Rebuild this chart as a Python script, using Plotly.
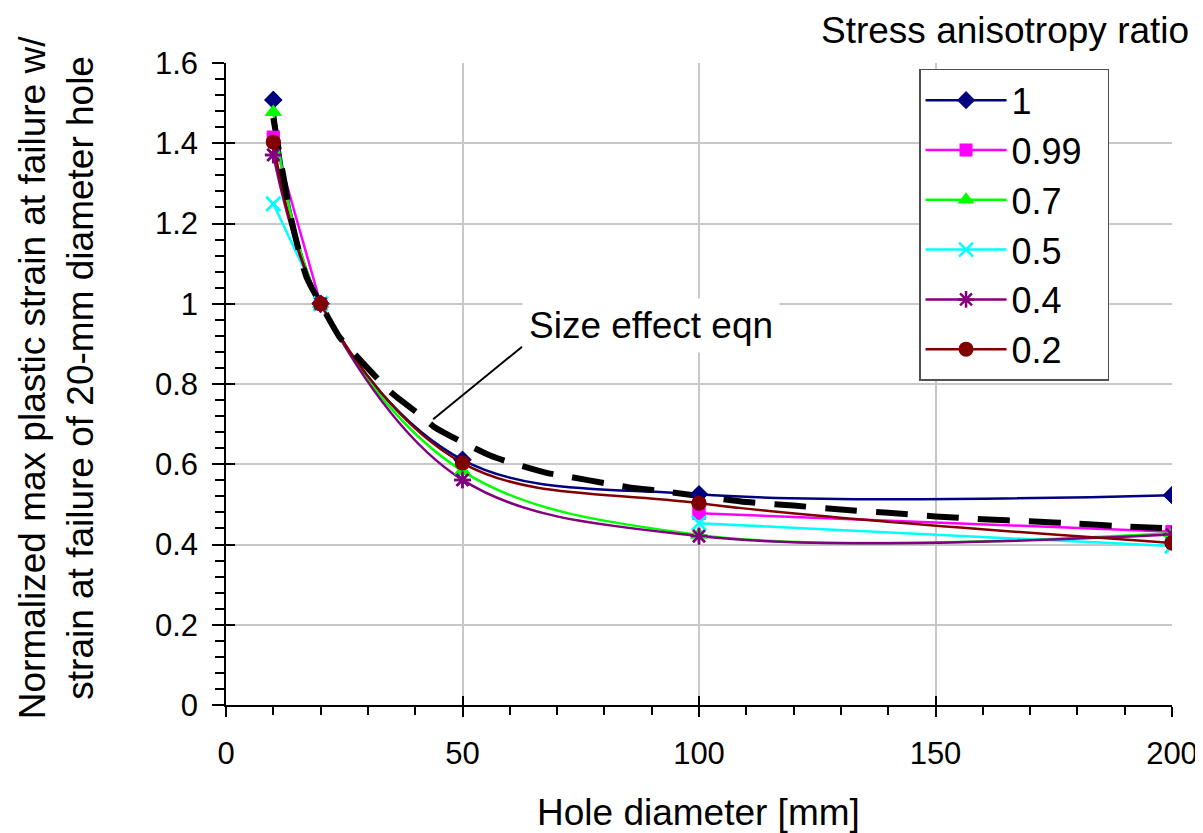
import plotly.graph_objects as go

# ---------------- data ----------------
diam = [10, 20, 50, 100, 200]
ratio_names = ["1", "0.99", "0.7", "0.5", "0.4", "0.2"]
v_r100 = [1.508, 1.0, 0.611, 0.525, 0.523]
v_r099 = [1.415, 1.0, None, 0.478, 0.432]
v_r070 = [1.478, 1.0, 0.583, 0.424, 0.428]
v_r050 = [1.249, 1.0, None, 0.453, 0.396]
v_r040 = [1.371, 1.0, 0.561, 0.421, 0.425]
v_r020 = [1.403, 1.0, 0.603, 0.503, 0.404]

eqn_x = [10, 14, 17, 20, 24, 27, 35, 41, 44, 50, 56, 61, 68, 73, 80, 85, 92, 100,
         110, 120, 130, 140, 150, 160, 170, 180, 190, 200]
eqn_y = [1.463, 1.20, 1.067, 1.0, 0.917, 0.877, 0.778, 0.723, 0.693, 0.655, 0.621,
         0.601, 0.578, 0.568, 0.553, 0.543, 0.533, 0.521, 0.506, 0.497, 0.487, 0.479,
         0.470, 0.463, 0.458, 0.452, 0.445, 0.440]

x_ticks = [0, 50, 100, 150, 200]
y_ticks = [0, 0.2, 0.4, 0.6, 0.8, 1.0, 1.2, 1.4, 1.6]
y_ticktext = ["0", "0.2", "0.4", "0.6", "0.8", "1", "1.2", "1.4", "1.6"]

series_vals = [v_r100, v_r099, v_r070, v_r050, v_r040, v_r020]
colors = ["#000080", "#FF00FF", "#00FF00", "#00FFFF", "#800080", "#800000"]
symbols = ["diamond", "square", "triangle-up", "x-thin", "asterisk-open", "circle"]
msizes = [14, 13, 15, 14, 14, 15]

FONT = "Liberation Sans, Arial, sans-serif"
PAD = "\u00a0\u00a0"

fig = go.Figure()

# series lines (with legend)
for name, vals, c, s, ms in zip(ratio_names, series_vals, colors, symbols, msizes):
    mline = dict(width=2.5, color=c) if s in ("x-thin", "asterisk-open") else dict(width=0)
    fig.add_trace(go.Scatter(
        x=diam, y=vals, name=name + PAD, mode="lines+markers", connectgaps=False,
        line=dict(color=c, width=2.5, shape="spline", smoothing=1.0),
        marker=dict(symbol=s, size=ms, color=c, line=mline),
    ))

# size effect equation curve
fig.add_trace(go.Scatter(
    x=eqn_x, y=eqn_y, mode="lines", showlegend=False, hoverinfo="skip",
    line=dict(color="black", width=6, dash="32px,19px", shape="spline", smoothing=0.6),
))

# markers on top again
for name, vals, c, s, ms in zip(ratio_names, series_vals, colors, symbols, msizes):
    mline = dict(width=2.5, color=c) if s in ("x-thin", "asterisk-open") else dict(width=0)
    fig.add_trace(go.Scatter(
        x=diam, y=vals, mode="markers", showlegend=False, hoverinfo="skip",
        marker=dict(symbol=s, size=ms, color=c, line=mline),
    ))

# empty trace on overlay axes (inside tick marks)
fig.add_trace(go.Scatter(x=[], y=[], xaxis="x2", yaxis="y2", showlegend=False,
                         hoverinfo="skip"))

# callout line for annotation
fig.add_shape(type="line", xref="x", yref="y", x0=43.8, y0=0.712, x1=62.6, y1=0.893,
              line=dict(color="black", width=2))

fig.add_annotation(
    xref="x", yref="y", x=62.6, y=0.947, xanchor="left", yanchor="middle",
    text="Size effect eqn", showarrow=False, bgcolor="white",
    font=dict(family=FONT, size=37, color="black"), borderpad=6,
)

fig.add_annotation(
    xref="paper", yref="paper", x=1.019, y=1.0514, xanchor="right", yanchor="middle",
    text="Stress anisotropy ratio", showarrow=False, borderpad=0,
    font=dict(family=FONT, size=37, color="black"),
)

fig.add_annotation(
    xref="paper", yref="paper", x=-0.1797, y=0.509, xanchor="center", yanchor="middle",
    text="Normalized max plastic strain at failure w/<br>strain at failure of 20-mm diameter hole",
    textangle=-90, showarrow=False,
    font=dict(family=FONT, size=37, color="black"),
)

fig.add_annotation(
    xref="paper", yref="paper", x=0.499, y=-0.1667, xanchor="center", yanchor="middle",
    text="Hole diameter [mm]", showarrow=False,
    font=dict(family=FONT, size=37, color="black"),
)

fig.update_layout(
    width=1195, height=825,
    margin=dict(l=218, r=31, t=55, b=128),
    paper_bgcolor="white", plot_bgcolor="white",
    font=dict(family=FONT, color="black"),
    showlegend=True,
    legend=dict(
        x=0.7326, y=0.991, xanchor="left", yanchor="top",
        bgcolor="white", bordercolor="#505050", borderwidth=1.5,
        font=dict(family=FONT, size=36, color="black"),
        itemwidth=81,
    ),
    xaxis=dict(
        range=[0, 200], tickvals=x_ticks, ticktext=[str(v) for v in x_ticks],
        showline=True, linecolor="black", linewidth=1.5,
        ticks="outside", ticklen=10, tickcolor="black", tickwidth=1.5,
        minor=dict(dtick=10, tick0=0, ticks="outside", ticklen=8, tickcolor="black", showgrid=False),
        showgrid=True, gridcolor="#c8c8c8", gridwidth=1.5, zeroline=False,
        tickfont=dict(family=FONT, size=31, color="black"),
        ticklabelstandoff=10, automargin=False,
    ),
    yaxis=dict(
        range=[0, 1.6], tickvals=y_ticks, ticktext=y_ticktext,
        showline=True, linecolor="black", linewidth=1.5,
        ticks="outside", ticklen=12, tickcolor="black", tickwidth=1.5,
        minor=dict(dtick=0.04, tick0=0, ticks="outside", ticklen=9, tickcolor="black", showgrid=False),
        showgrid=True, gridcolor="#c8c8c8", gridwidth=1.5, zeroline=False,
        tickfont=dict(family=FONT, size=31, color="black"),
        ticklabelstandoff=8, automargin=False,
    ),
    xaxis2=dict(
        overlaying="x", anchor="y2", side="bottom", range=[0, 200], tickvals=x_ticks,
        showticklabels=False, ticks="inside", ticklen=9, tickcolor="black", tickwidth=1.5,
        showgrid=False, showline=False, zeroline=False, automargin=False,
    ),
    yaxis2=dict(
        overlaying="y", anchor="x2", side="left", range=[0, 1.6], tickvals=y_ticks,
        showticklabels=False, ticks="inside", ticklen=9, tickcolor="black", tickwidth=1.5,
        showgrid=False, showline=False, zeroline=False, automargin=False,
    ),
)

fig.write_html("out.html")
